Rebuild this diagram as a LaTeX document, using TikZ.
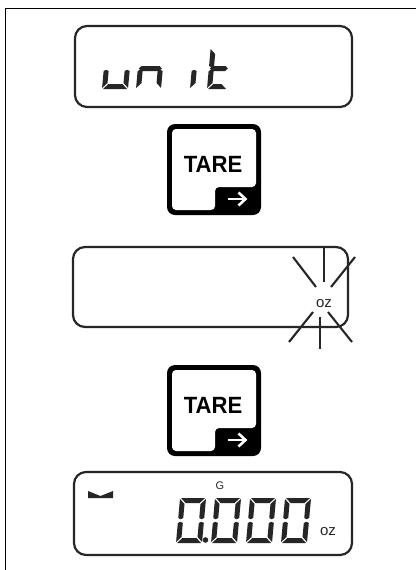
\documentclass[tikz,border=0pt]{standalone}
\usepackage{fontspec}
\setmainfont{Liberation Sans}
\definecolor{ink}{HTML}{262626}
\tikzset{
  panel/.style={draw=ink,line width=2.2pt,rounded corners=12pt,fill=white},
  ray/.style={draw=ink,line width=2.1pt},
  lcdseg/.style={fill=ink,draw=none},
  keytext/.style={font=\fontsize{23.5}{24}\selectfont\bfseries,text=black,inner sep=0pt,xscale=0.94,transform shape},
  oztext/.style={font=\fontsize{15}{15}\selectfont,text=ink,inner sep=0pt},
}
% segments in local coordinates: origin at bottom-left, y runs down
\newcommand{\sA}[3]{\fill[lcdseg] (1,-#2) -- (#1-1,-#2) -- (#1-1-#3,-#2+#3) -- (1+#3,-#2+#3) -- cycle;}
\newcommand{\sD}[3]{\fill[lcdseg] (1,0) -- (#1-1,0) -- (#1-1-#3,-#3) -- (1+#3,-#3) -- cycle;}
\newcommand{\sF}[3]{\fill[lcdseg] (0,-#2+1) -- (#3,-#2+1+#3) -- (#3,-#2/2-#3/2) -- (#3/2,-#2/2-#3/4) -- (0,-#2/2-#3/2) -- cycle;}
\newcommand{\sE}[3]{\fill[lcdseg] (0,-1) -- (#3,-1-#3) -- (#3,-#2/2+#3/2) -- (#3/2,-#2/2+#3/4) -- (0,-#2/2+#3/2) -- cycle;}
\newcommand{\sB}[3]{\fill[lcdseg] (#1,-#2+1) -- (#1-#3,-#2+1+#3) -- (#1-#3,-#2/2-#3/2) -- (#1-#3/2,-#2/2-#3/4) -- (#1,-#2/2-#3/2) -- cycle;}
\newcommand{\sC}[3]{\fill[lcdseg] (#1,-1) -- (#1-#3,-1-#3) -- (#1-#3,-#2/2+#3/2) -- (#1-#3/2,-#2/2+#3/4) -- (#1,-#2/2+#3/2) -- cycle;}
\newcommand{\sG}[3]{\fill[lcdseg] (1,-#2/2) -- (1+#3/2,-#2/2-#3/2) -- (#1-1-#3/2,-#2/2-#3/2) -- (#1-1,-#2/2) -- (#1-1-#3/2,-#2/2+#3/2) -- (1+#3/2,-#2/2+#3/2) -- cycle;}
\newcommand{\keycap}[2]{%
  \fill[black,rounded corners=8pt] (167,#1) rectangle (261,#1+91);
  \fill[white,rounded corners=4pt] (172,#1+5) -- (256,#1+5) -- (256,#1+63) -- (215,#1+63) -- (215,#1+86) -- (172,#1+86) -- cycle;
  \node[keytext] (#2) at (213,#1+40) {TARE};
  \draw[white,line width=2.6pt] (228,#1+75) coordinate (#2a) -- (245,#1+75) coordinate (#2b);
  \draw[white,line width=2.6pt] (238.5,#1+68.5) -- (245.5,#1+75) -- (238.5,#1+81.5);
}
\begin{document}
\begin{tikzpicture}[x=1pt,y=-1pt]
\useasboundingbox (0,0) rectangle (416,570);
\fill[white] (0,0) rectangle (416,570);
\draw[black,line width=1.3pt] (5.5,570) -- (5.5,8.5) -- (416,8.5);
% panel 1
\draw[panel] (75,26) rectangle (352,107);
\begin{scope}[shift={(102,89)},xslant=0.09]
  \sE{26}{41}{5}\sD{26}{41}{5}\sC{26}{41}{5}
\end{scope}
\begin{scope}[shift={(136,89)},xslant=0.09]
  \sE{25}{41}{5}\sG{25}{41}{5}\sC{25}{41}{5}
\end{scope}
\begin{scope}[shift={(190,89)},xslant=0.09]
  \sE{25}{41}{5}
\end{scope}
\begin{scope}[shift={(207,89)},xslant=0.09]
  \sF{20}{41}{5}\sE{20}{41}{5}\sG{20}{41}{5}\sD{20}{41}{5}
\end{scope}
\keycap{124}{keya}
% panel 2
\draw[panel] (73,247) rectangle (348,327);
\node[oztext] (ozb) at (324,304) {oz};
\draw[ray] (324,248) -- (324,282);
\draw[ray] (293,257) -- (316,287);
\draw[ray] (331,287) -- (355,257);
\draw[ray] (313,312) -- (289,342);
\draw[ray] (320,317) -- (320,349);
\draw[ray] (328,312) -- (352,342);
\keycap{365}{keyb}
% panel 3
\draw[panel] (74,472) rectangle (352,555);
\fill[ink] (88,491) -- (100.5,496) -- (113,491) -- (113,498) -- (88,498) -- cycle;
\node[font=\fontsize{11}{11}\selectfont,text=ink,inner sep=0pt] (gmark) at (220,486) {G};
\foreach \dx in {176,211,246,281}{
  \begin{scope}[shift={(\dx,543)},xslant=0.09]
    \sA{26}{45}{5}\sB{26}{45}{5}\sC{26}{45}{5}\sD{26}{45}{5}\sE{26}{45}{5}\sF{26}{45}{5}
  \end{scope}
}
\fill[ink] (205.5,540) circle (2.8);
\node[oztext] (ozc) at (328,532) {oz};
\end{tikzpicture}
\end{document}
